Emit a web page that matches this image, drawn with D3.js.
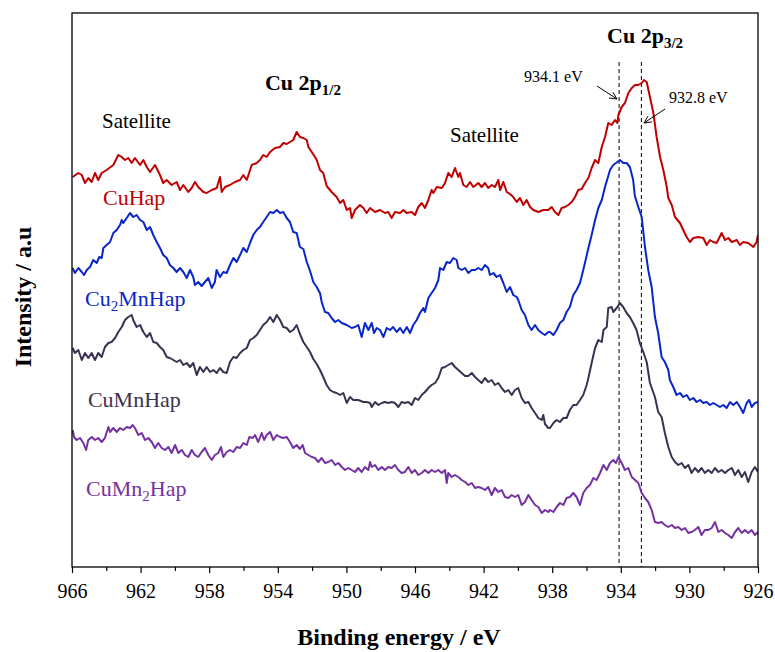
<!DOCTYPE html>
<html>
<head>
<meta charset="utf-8">
<script src="https://cdn.jsdelivr.net/npm/d3@7"></script>
<style>
  html, body { margin: 0; padding: 0; background: #ffffff; }
  svg { display: block; }
  svg text { font-family: "Liberation Serif", "Times New Roman", serif !important; }
</style>
</head>
<body>
<svg id="chart" width="775" height="652" font-family="Liberation Serif, serif"></svg>
<script>
// Cu 2p XPS spectra (binding energy in eV, stacked intensity in a.u.)
const majorTicks = [966, 962, 958, 954, 950, 946, 942, 938, 934, 930, 926];
const minorTicks = [964, 960, 956, 952, 948, 944, 940, 936, 932, 928];

const cuHapEnergy = [965.96,965.63,965.43,965.24,965.05,964.85,964.66,964.47,964.27,963.98,963.59,963.30,963.10,962.91,962.72,962.52,962.33,962.03,961.84,961.64,961.45,961.16,960.87,960.68,960.48,960.19,959.90,959.70,959.51,959.22,959.02,958.83,958.64,958.34,958.15,957.85,957.56,957.37,957.27,957.08,956.79,956.50,956.20,956.01,955.81,955.52,955.23,955.04,954.85,954.65,954.45,954.16,953.87,953.68,953.48,953.29,953.10,952.90,952.71,952.51,952.31,952.22,952.02,951.83,951.73,951.54,951.35,951.15,950.86,950.57,950.37,950.18,949.98,949.79,949.69,949.50,949.21,949.01,948.82,948.62,948.33,948.04,947.75,947.56,947.36,947.17,946.87,946.68,946.48,946.19,946.00,945.81,945.61,945.42,945.22,945.03,944.93,944.73,944.44,944.25,944.06,943.86,943.67,943.47,943.38,943.18,942.99,942.79,942.60,942.31,942.11,941.92,941.73,941.53,941.34,941.14,941.04,940.85,940.65,940.46,940.27,940.07,939.88,939.68,939.49,939.29,939.10,938.81,938.52,938.23,938.03,937.84,937.64,937.45,937.25,937.06,936.86,936.67,936.48,936.28,936.09,935.89,935.70,935.50,935.31,935.11,934.92,934.73,934.53,934.34,934.20,934.14,933.95,933.76,933.56,933.36,933.17,932.98,932.78,932.65,932.49,932.30,932.10,931.91,931.71,931.52,931.32,931.23,931.03,930.84,930.55,930.36,930.16,929.97,929.77,929.48,929.19,928.99,928.80,928.61,928.41,928.12,927.92,927.73,927.53,927.24,927.05,926.86,926.57,926.27,926.08,926.00];
const cuHapIntensity = [390,394,392,384,389,385,394,387,394,397,402,412,410,407,409,404,409,402,407,400,395,402,392,384,387,382,385,377,382,375,379,385,380,375,374,377,379,390,375,380,382,385,387,392,387,402,404,407,412,410,415,419,420,424,423,425,427,435,430,429,427,420,415,410,407,397,394,381,375,370,364,367,357,359,349,357,362,359,354,359,355,357,354,355,349,355,354,357,354,355,352,360,364,359,367,377,374,380,379,384,394,390,399,390,394,382,380,385,380,384,380,384,379,382,380,387,377,385,375,373,370,365,369,362,367,360,357,355,357,357,360,355,352,359,360,362,365,370,377,378,384,389,399,407,404,420,430,444,442,447,444,452,460,464,474,479,482,482,484,487,485,470,454,430,410,397,380,369,362,350,344,337,330,325,329,330,329,322,327,325,324,334,327,329,325,327,322,325,324,320,325,332];

const cu2MnHapEnergy = [965.96,965.83,965.63,965.43,965.30,965.14,964.95,964.76,964.56,964.41,964.27,964.17,963.98,963.78,963.59,963.39,963.20,963.10,963.01,962.81,962.62,962.43,962.23,962.03,961.84,961.64,961.45,961.26,961.06,960.87,960.68,960.48,960.29,960.09,959.90,959.70,959.51,959.31,959.12,958.93,958.83,958.64,958.44,958.25,958.05,957.85,957.67,957.57,957.37,957.18,956.98,956.79,956.59,956.40,956.20,956.01,955.81,955.62,955.43,955.23,955.04,954.85,954.65,954.45,954.26,954.06,953.87,953.68,953.48,953.29,953.10,952.90,952.71,952.51,952.31,952.12,951.93,951.73,951.64,951.54,951.44,951.25,951.06,950.86,950.66,950.47,950.27,949.98,949.69,949.50,949.31,949.11,948.92,948.72,948.52,948.39,948.23,948.04,947.84,947.65,947.46,947.27,947.07,946.87,946.68,946.48,946.29,946.10,945.90,945.71,945.51,945.42,945.22,945.03,944.83,944.64,944.54,944.35,944.15,943.96,943.77,943.57,943.47,943.28,943.08,942.89,942.69,942.50,942.31,942.11,941.92,941.73,941.63,941.43,941.24,941.04,940.85,940.65,940.46,940.27,940.07,939.98,939.78,939.59,939.39,939.20,939.00,938.81,938.61,938.42,938.23,938.13,937.93,937.74,937.55,937.35,937.16,936.97,936.77,936.58,936.38,936.29,936.09,935.89,935.70,935.50,935.31,935.11,934.92,934.63,934.44,934.20,934.05,933.86,933.66,933.47,933.28,933.18,932.98,932.78,932.59,932.40,932.20,932.01,931.82,931.62,931.43,931.23,931.14,930.94,930.75,930.55,930.36,930.16,929.97,929.77,929.58,929.38,929.19,928.99,928.80,928.61,928.41,928.22,928.02,927.83,927.63,927.44,927.24,927.05,926.86,926.66,926.51,926.37,926.18,926.00];
const cu2MnHapIntensity = [299,294,299,295,292,297,300,307,304,310,309,319,322,325,334,337,342,347,344,349,354,350,352,347,345,337,340,332,325,319,312,309,302,299,295,299,295,289,297,290,282,285,281,285,289,279,285,297,290,295,294,302,309,305,312,319,315,324,332,337,340,345,350,355,354,357,354,355,349,345,335,334,320,318,305,296,285,280,277,274,265,255,254,249,245,247,244,242,239,240,242,230,244,237,244,234,239,237,230,239,237,240,235,239,234,240,234,242,247,254,259,255,269,274,279,287,299,297,305,304,309,307,299,297,299,294,297,297,299,297,302,299,292,294,290,292,284,275,280,272,270,267,257,252,242,237,242,237,234,232,235,235,232,237,244,247,255,260,272,277,284,290,304,319,332,347,359,367,380,397,402,405,407,404,404,400,387,371,360,350,320,297,280,250,234,210,205,197,187,180,172,174,170,172,167,169,165,167,164,165,162,164,162,160,162,159,165,162,165,160,154,164,167,160,164,165];

const cuMnHapEnergy = [965.96,965.83,965.63,965.43,965.24,965.05,964.85,964.66,964.47,964.27,964.08,963.88,963.69,963.49,963.30,963.10,962.91,962.72,962.52,962.43,962.23,962.03,961.84,961.64,961.45,961.26,961.06,960.87,960.68,960.48,960.29,960.09,959.90,959.70,959.51,959.31,959.12,958.93,958.73,958.54,958.34,958.15,957.95,957.76,957.56,957.37,957.18,956.98,956.79,956.59,956.40,956.20,956.01,955.81,955.62,955.43,955.23,955.04,954.85,954.65,954.45,954.26,954.06,953.87,953.68,953.48,953.29,953.10,952.90,952.71,952.51,952.31,952.12,951.93,951.73,951.54,951.35,951.15,950.96,950.76,950.57,950.37,950.18,949.98,949.79,949.60,949.31,949.01,948.82,948.62,948.52,948.33,948.14,947.94,947.75,947.56,947.36,947.17,946.97,946.78,946.59,946.39,946.19,946.00,945.81,945.61,945.42,945.22,945.03,944.83,944.64,944.44,944.25,944.06,943.86,943.67,943.47,943.28,943.08,942.89,942.69,942.50,942.31,942.11,941.92,941.73,941.53,941.34,941.14,940.95,940.75,940.56,940.36,940.17,939.98,939.78,939.59,939.39,939.20,939.00,938.81,938.61,938.52,938.42,938.23,938.13,937.93,937.74,937.55,937.35,937.16,936.97,936.77,936.58,936.38,936.19,935.99,935.89,935.70,935.50,935.31,935.11,935.01,934.82,934.73,934.53,934.44,934.24,934.05,933.86,933.66,933.47,933.28,933.08,932.89,932.69,932.49,932.30,932.01,931.82,931.62,931.43,931.23,931.03,930.84,930.65,930.45,930.26,930.06,929.87,929.68,929.48,929.29,929.10,928.90,928.70,928.51,928.31,928.12,927.92,927.73,927.53,927.34,927.15,926.95,926.76,926.57,926.37,926.18,926.00];
const cuMnHapIntensity = [219,214,217,207,214,209,214,207,214,210,220,224,225,229,235,240,247,250,252,247,240,242,235,230,234,225,224,220,217,210,209,207,205,207,202,204,200,204,192,200,195,200,195,197,194,199,195,194,205,210,209,214,217,219,227,229,232,237,242,245,250,245,252,247,240,239,235,237,242,233,225,220,215,208,203,197,190,182,177,175,174,172,174,164,170,167,167,165,165,164,160,165,162,164,165,164,165,164,160,165,164,165,162,169,167,172,175,179,182,184,189,199,200,202,204,200,197,194,191,191,194,190,187,184,189,185,187,182,184,179,175,177,172,177,179,169,164,165,159,154,149,147,152,143,139,139,144,147,145,149,149,157,162,162,167,172,182,189,204,219,227,225,237,240,259,260,255,259,264,260,254,250,244,237,224,215,205,184,170,155,150,134,120,110,105,102,104,99,102,94,99,95,99,94,97,94,99,95,97,94,97,99,92,97,90,95,85,95,100,95];

const cuMn2HapEnergy = [965.96,965.88,965.73,965.53,965.34,965.18,965.05,964.85,964.66,964.47,964.27,964.08,963.88,963.78,963.59,963.39,963.20,963.01,962.81,962.62,962.46,962.33,962.13,961.94,961.74,961.55,961.35,961.16,960.97,960.77,960.58,960.38,960.19,959.99,959.80,959.60,959.41,959.22,959.02,958.83,958.64,958.44,958.25,958.05,957.85,957.67,957.47,957.31,957.18,956.98,956.79,956.59,956.40,956.20,956.01,955.81,955.66,955.46,955.33,955.14,954.94,954.80,954.65,954.45,954.26,954.06,953.87,953.68,953.48,953.29,953.10,952.90,952.71,952.55,952.41,952.22,952.02,951.83,951.64,951.44,951.25,951.06,950.86,950.66,950.47,950.27,950.08,949.89,949.69,949.50,949.31,949.11,948.92,948.72,948.62,948.52,948.33,948.14,947.94,947.75,947.56,947.36,947.17,946.97,946.78,946.59,946.39,946.19,946.00,945.81,945.61,945.42,945.22,945.03,944.83,944.64,944.44,944.25,944.15,944.06,943.86,943.67,943.47,943.28,943.08,942.89,942.69,942.50,942.31,942.11,941.92,941.73,941.53,941.34,941.14,940.95,940.75,940.56,940.36,940.17,939.98,939.78,939.59,939.39,939.20,939.00,938.81,938.61,938.42,938.23,938.13,937.93,937.74,937.55,937.35,937.16,936.97,936.77,936.58,936.38,936.19,935.99,935.80,935.60,935.41,935.21,935.01,934.82,934.63,934.44,934.28,934.14,933.95,933.76,933.56,933.36,933.17,932.98,932.78,932.59,932.40,932.20,932.01,931.82,931.62,931.43,931.23,931.03,930.84,930.65,930.45,930.26,930.06,929.87,929.68,929.48,929.29,929.10,928.90,928.70,928.51,928.31,928.12,927.92,927.73,927.53,927.34,927.15,926.95,926.76,926.57,926.37,926.18,926.00];
const cuMn2HapIntensity = [137,130,127,129,124,117,127,130,127,129,125,129,140,135,139,135,139,137,140,139,142,139,132,134,127,129,125,119,124,119,117,120,114,122,114,117,112,110,117,112,110,115,119,112,107,112,114,120,110,115,117,115,120,119,124,122,130,129,132,125,134,127,132,135,127,132,130,129,130,125,119,122,118,122,114,112,110,109,105,109,104,105,107,102,104,100,97,99,97,95,99,95,100,97,105,100,102,97,100,97,100,99,102,97,94,95,100,94,97,92,94,97,94,97,95,97,94,97,84,94,90,92,90,87,85,82,84,79,80,79,77,80,72,79,75,77,70,69,72,70,72,62,65,72,67,62,60,54,57,55,57,55,60,64,62,69,70,74,70,62,74,79,82,89,87,94,102,97,104,107,104,110,104,97,99,90,87,84,74,69,65,57,45,44,45,42,40,42,39,40,37,39,34,35,37,40,32,37,37,39,45,35,37,34,32,29,35,39,34,37,34,37,32,35];

const seriesColors = ["#c00000", "#0a26c8", "#3b3150", "#7432a0"];
const seriesLabels = [
  [{ t: "CuHap" }],
  [{ t: "Cu" }, { t: "2", sub: true }, { t: "MnHap" }],
  [{ t: "CuMnHap" }],
  [{ t: "CuMn" }, { t: "2", sub: true }, { t: "Hap" }]
];
// label anchor: binding energy and intensity of the text baseline start
const labelEnergy = [964.19, 965.24, 965.07, 965.18];
const labelIntensity = [362, 261, 160, 71];

// reference energies of the Cu 2p3/2 components
const markerEnergies = [934.1, 932.8];

const series = [
  { energy: cuHapEnergy, intensity: cuHapIntensity },
  { energy: cu2MnHapEnergy, intensity: cu2MnHapIntensity },
  { energy: cuMnHapEnergy, intensity: cuMnHapIntensity },
  { energy: cuMn2HapEnergy, intensity: cuMn2HapIntensity }
];

const SERIF = '"Liberation Serif", "Times New Roman", serif';
const svg = d3.select("#chart");
const plot = { left: 72, right: 758, top: 13, bottom: 567 };

const x = d3.scaleLinear().domain([966, 926]).range([plot.left, plot.right]);
const y = d3.scaleLinear().domain([0, 554]).range([plot.bottom, plot.top]);

svg.append("defs").append("clipPath").attr("id", "plotClip")
  .append("rect")
  .attr("x", plot.left).attr("y", plot.top)
  .attr("width", plot.right - plot.left).attr("height", plot.bottom - plot.top);

// dashed guides at the two component energies
svg.append("g").selectAll("line").data(markerEnergies).join("line")
  .attr("x1", d => x(d)).attr("x2", d => x(d))
  .attr("y1", y(505)).attr("y2", plot.bottom)
  .attr("stroke", "#000").attr("stroke-width", 1)
  .attr("stroke-dasharray", "4,3");

// spectra
const line = d3.line().x(d => x(d[0])).y(d => y(d[1]));
const lines = svg.append("g").attr("clip-path", "url(#plotClip)");
series.forEach((s, i) => {
  lines.append("path")
    .datum(d3.zip(s.energy, s.intensity))
    .attr("d", line)
    .attr("fill", "none")
    .attr("stroke", seriesColors[i])
    .attr("stroke-width", 2)
    .attr("stroke-linejoin", "round");
});

// frame
svg.append("rect")
  .attr("x", plot.left).attr("y", plot.top)
  .attr("width", plot.right - plot.left).attr("height", plot.bottom - plot.top)
  .attr("fill", "none").attr("stroke", "#000").attr("stroke-width", 1.3);

// bottom axis: major ticks with labels, minor ticks without
const xAxis = svg.append("g")
  .attr("transform", `translate(0,${plot.bottom})`)
  .call(d3.axisBottom(x).tickValues(majorTicks).tickSize(6).tickFormat(d3.format("d")));
xAxis.attr("font-family", SERIF);
xAxis.select(".domain").remove();
xAxis.selectAll(".tick line").attr("stroke", "#000").attr("stroke-width", 1.2);
xAxis.selectAll(".tick text")
  .attr("y", 31).attr("dy", null)
  .attr("fill", "#000")
  .attr("font-family", SERIF)
  .style("font-family", SERIF)
  .style("font-size", "20px");

const xMinor = svg.append("g")
  .attr("transform", `translate(0,${plot.bottom})`)
  .call(d3.axisBottom(x).tickValues(minorTicks).tickSize(4).tickFormat(""));
xMinor.select(".domain").remove();
xMinor.selectAll(".tick line").attr("stroke", "#000").attr("stroke-width", 1.2);

// axis titles
svg.append("text")
  .attr("x", (plot.left + plot.right) / 2 - 16).attr("y", 645)
  .attr("text-anchor", "middle")
  .style("font-family", SERIF)
  .style("font-size", "24px").style("font-weight", "bold")
  .text("Binding energy / eV");

svg.append("text")
  .attr("transform", `translate(31,${(plot.top + plot.bottom) / 2 + 7}) rotate(-90)`)
  .attr("text-anchor", "middle")
  .style("font-family", SERIF)
  .style("font-size", "24px").style("font-weight", "bold")
  .text("Intensity / a.u");

// series labels
seriesLabels.forEach((parts, i) => {
  const t = svg.append("text")
    .attr("x", x(labelEnergy[i])).attr("y", y(labelIntensity[i]))
    .attr("fill", seriesColors[i])
    .style("font-family", SERIF)
    .style("font-size", "22px");
  let lowered = false;
  parts.forEach(p => {
    const ts = t.append("tspan").text(p.t);
    if (p.sub) { ts.attr("dy", 5).style("font-size", "15px"); lowered = true; }
    else if (lowered) { ts.attr("dy", -5); lowered = false; }
  });
});

// peak annotations
function peakLabel(e, inten, main, sub) {
  const t = svg.append("text")
    .attr("x", x(e)).attr("y", y(inten))
    .style("font-family", SERIF)
    .style("font-size", "22px").style("font-weight", "bold");
  t.append("tspan").text(main);
  t.append("tspan").attr("dy", 5).style("font-size", "15px").text(sub);
}
peakLabel(954.75, 477, "Cu 2p", "1/2");
peakLabel(934.80, 524, "Cu 2p", "3/2");

const satelliteEnergy = [964.25, 943.96];
const satelliteIntensity = [439, 425];
svg.append("g").selectAll("text").data(satelliteEnergy).join("text")
  .attr("x", d => x(d)).attr("y", (d, i) => y(satelliteIntensity[i]))
  .style("font-family", SERIF)
  .style("font-size", "21px")
  .text("Satellite");

// energy callouts with arrows
const callouts = [
  { text: "934.1 eV", tx: 939.64, ty: 485, from: [935.39, 481], to: [934.22, 468] },
  { text: "932.8 eV", tx: 931.19, ty: 464, from: [931.42, 458], to: [932.65, 444] }
];
callouts.forEach(c => {
  svg.append("text")
    .attr("x", x(c.tx)).attr("y", y(c.ty))
    .style("font-family", SERIF)
    .style("font-size", "16px")
    .text(c.text);
  const x1 = x(c.from[0]), y1 = y(c.from[1]);
  const x2 = x(c.to[0]), y2 = y(c.to[1]);
  const ang = Math.atan2(y2 - y1, x2 - x1);
  const len = 8, spread = 0.45;
  const g = svg.append("g").attr("stroke", "#000").attr("stroke-width", 1).attr("fill", "none");
  g.append("line").attr("x1", x1).attr("y1", y1).attr("x2", x2).attr("y2", y2);
  g.append("path").attr("d",
    `M${x2 - len * Math.cos(ang - spread)},${y2 - len * Math.sin(ang - spread)}` +
    `L${x2},${y2}` +
    `L${x2 - len * Math.cos(ang + spread)},${y2 - len * Math.sin(ang + spread)}`);
});
</script>
</body>
</html>
